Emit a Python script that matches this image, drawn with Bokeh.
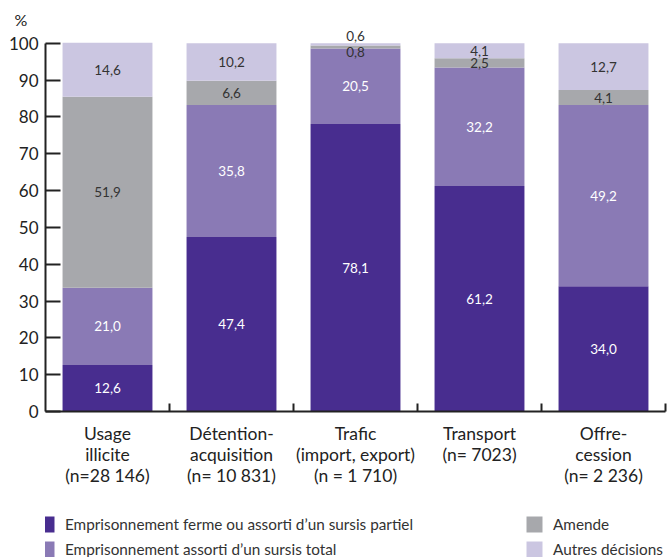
import numpy as np
from bokeh.plotting import figure
from bokeh.layouts import column
from bokeh.models import (FixedTicker, Range1d, Title, Legend, LegendItem,
                          ColumnDataSource)
from bokeh.core.properties import value
from bokeh.embed import file_html
from bokeh.resources import INLINE

# ---- data ----
categories = ["Usage\nillicite\n(n=28 146)",
              "Détention-\nacquisition\n(n= 10 831)",
              "Trafic\n(import, export)\n(n = 1 710)",
              "Transport\n(n= 7023)",
              "Offre-\ncession\n(n= 2 236)"]
ferme = [12.6, 47.4, 78.1, 61.2, 34.0]
sursis_total = [21.0, 35.8, 20.5, 32.2, 49.2]
amende = [51.9, 6.6, 0.8, 2.5, 4.1]
autres = [14.6, 10.2, 0.6, 4.1, 12.7]
series_names = ["Emprisonnement ferme ou assorti d’un sursis partiel",
                "Emprisonnement assorti d’un sursis total",
                "Amende",
                "Autres décisions"]
y_ticks = list(range(0, 101, 10))

colors = ["#482D8F", "#8A7AB5", "#A7A8AC", "#CBC6E1"]
label_colors = ["#FFFFFF", "#FFFFFF", "#333333", "#333333"]
FONT = "Lato"
AXC = "#222222"

series = [ferme, sursis_total, amende, autres]
xs = [i + 0.5 for i in range(len(categories))]
keys = ["s0", "s1", "s2", "s3"]
data = {"x": xs}
for k, s in zip(keys, series):
    data[k] = s
src = ColumnDataSource(data)

p = figure(width=671, height=500, output_backend="svg", toolbar_location=None,
           x_range=Range1d(0, 5), y_range=Range1d(0, 104),
           min_border_left=45, min_border_right=6, min_border_top=28,
           min_border_bottom=89)
p.outline_line_color = None
p.grid.grid_line_color = None
p.background_fill_color = None
p.border_fill_color = "white"

renderers = p.vbar_stack(keys, x="x", width=0.725, source=src, color=colors,
                         line_color=None)

# value labels
lx, ly, lt, lc, loff = [], [], [], [], []
arr = np.array(series)
cum = np.cumsum(arr, axis=0)
for j in range(arr.shape[1]):
    for i in range(arr.shape[0]):
        v = arr[i, j]
        mid = cum[i, j] - v / 2
        off = 0
        if v < 1:
            off = -8 if i == arr.shape[0] - 1 else 5
        lx.append(xs[j]); ly.append(mid)
        lt.append(f"{v:.1f}".replace(".", ","))
        lc.append(label_colors[i]); loff.append(off)
lsrc = ColumnDataSource(dict(x=lx, y=ly, t=lt, c=lc, off=loff))
p.text(x="x", y="y", text="t", source=lsrc, text_color="c",
       text_align="center", text_baseline="middle", y_offset="off",
       text_font=value(FONT), text_font_size="13.5px")

# axes
yax = p.yaxis[0]
yax.ticker = FixedTicker(ticks=y_ticks)
yax.bounds = (0, 100)
yax.major_tick_in = 15
yax.major_tick_out = 0
yax.minor_tick_line_color = None
yax.axis_line_width = 2
yax.major_tick_line_width = 2
yax.axis_line_color = AXC
yax.major_tick_line_color = AXC
yax.major_label_text_font = FONT
yax.major_label_text_font_size = "17px"
yax.major_label_text_color = AXC
yax.major_label_standoff = 7

xax = p.xaxis[0]
xax.ticker = FixedTicker(ticks=xs, minor_ticks=[1, 2, 3, 4, 5])
xax.major_label_overrides = {x: c for x, c in zip(xs, categories)}
xax.major_tick_in = 0
xax.major_tick_out = 0
xax.minor_tick_in = 8
xax.minor_tick_out = 0
xax.axis_line_width = 2
xax.minor_tick_line_width = 2
xax.axis_line_color = AXC
xax.minor_tick_line_color = AXC
xax.major_label_text_font = FONT
xax.major_label_text_font_size = "17.5px"
xax.major_label_text_color = AXC
xax.major_label_text_line_height = 1.0
xax.major_label_standoff = 11

p.add_layout(Title(text="%", align="left", offset=-31, text_font=FONT,
                   text_font_size="16px", text_color=AXC,
                   text_font_style="normal", standoff=0), "above")

# legend figure (legend swatches come from hidden copies of the bars)
lf = figure(width=671, height=57, output_backend="svg", toolbar_location=None,
            x_range=Range1d(0, 5), y_range=Range1d(0, 100),
            min_border=0, x_axis_location=None, y_axis_location=None)
lf.outline_line_color = None
lf.grid.grid_line_color = None
lf.background_fill_color = None
lf.border_fill_color = "white"
dummies = []
for k, c in zip(keys, colors):
    r = lf.vbar(x="x", top=k, width=0.7, source=src, fill_color=c,
                line_color=None)
    r.visible = False
    dummies.append(r)


def make_legend(idx, loc):
    items = [LegendItem(label=series_names[i], renderers=[dummies[i]]) for i in idx]
    lg = Legend(items=items, location=loc, orientation="vertical",
                glyph_width=20, glyph_height=20, label_height=20,
                label_standoff=9, spacing=5, padding=0, margin=0,
                border_line_color=None, background_fill_alpha=0,
                label_text_font=FONT, label_text_font_size="15.3px",
                label_text_color="#333333", label_text_baseline="middle")
    lf.add_layout(lg, "center")


make_legend([0, 1], (-9, -2))
make_legend([2, 3], (479, -2))

layout = column(p, lf, spacing=0)
open("out.html", "w").write(file_html(layout, INLINE))
